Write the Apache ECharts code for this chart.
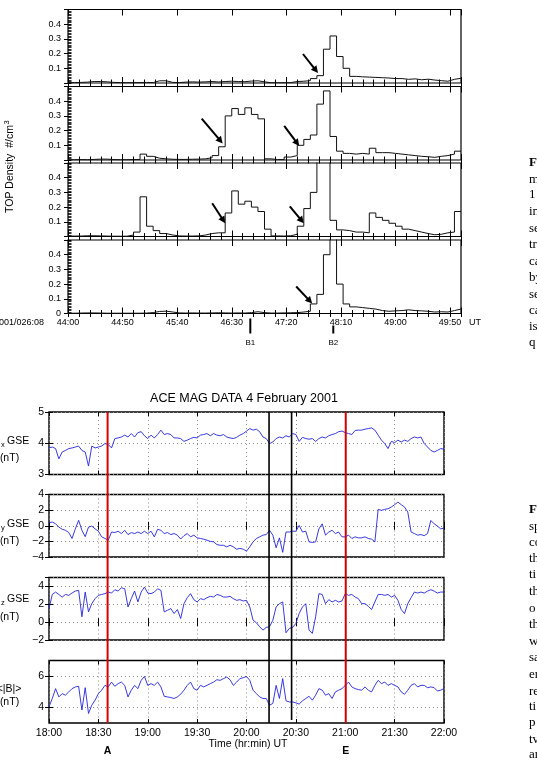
<!DOCTYPE html>
<html><head><meta charset="utf-8">
<script src="https://cdn.jsdelivr.net/npm/echarts@6/dist/echarts.min.js"></script>
<style>html,body{margin:0;padding:0;background:#fff;overflow:hidden}#c{width:537px;height:775px}</style>
</head><body><div id="c"></div>
<script>
// ---------------- DATA ----------------
// Top figure: TOP density (#/cm3), 6-second bins starting at 2001/026 08:44:00
const binSeconds = 6;
const den1 = [0.003,0.004,0.006,0.01,0.01,0.008,0.004,0.003,0.002,0.003,
  0.003,0.004,0.003,0.015,0.015,0.004,0.003,0.006,0.008,0.006,
  0.008,0.01,0.007,0.01,0.012,0.01,0.009,0.013,0.015,0.008,
  0.002,0.002,0.002,0.003,0.01,0.012,0.016,0.03,0.05,0.23,
  0.32,0.18,0.1,0.045,0.042,0.04,0.038,0.036,0.034,0.03,
  0.03,0.025,0.028,0.022,0.026,0.02,0.016,0.012,0.025,0.032];
const den2 = [0.002,0.003,0.002,0.004,0.006,0.006,0.003,0.002,0.002,0.003,
  0.004,0.04,0.025,0.012,0.008,0.005,0.004,0.004,0.005,0.006,
  0.008,0.015,0.03,0.09,0.3,0.35,0.31,0.355,0.31,0.28,
  0.008,0.003,0.003,0.02,0.03,0.1,0.14,0.17,0.38,0.47,
  0.16,0.06,0.045,0.04,0.045,0.04,0.08,0.05,0.05,0.045,
  0.04,0.035,0.03,0.025,0.022,0.018,0.025,0.03,0.04,0.06];
const den3 = [0.003,0.003,0.005,0.005,0.004,0.003,0.002,0.002,0.002,0.01,
  0.03,0.27,0.07,0.04,0.02,0.01,0.004,0.003,0.003,0.004,
  0.01,0.02,0.025,0.025,0.16,0.31,0.22,0.24,0.2,0.17,
  0.05,0.004,0.003,0.005,0.015,0.07,0.19,0.3,0.55,0.55,
  0.11,0.045,0.04,0.03,0.03,0.025,0.16,0.13,0.11,0.09,
  0.07,0.05,0.04,0.03,0.02,0.012,0.015,0.025,0.03,0.17];
const den4 = [0.002,0.003,0.004,0.004,0.003,0.002,0.002,0.002,0.002,0.002,
  0.002,0.003,0.006,0.014,0.016,0.01,0.004,0.003,0.004,0.003,
  0.003,0.004,0.005,0.004,0.003,0.004,0.003,0.006,0.012,0.006,
  0.003,0.003,0.004,0.005,0.006,0.01,0.015,0.065,0.13,0.4,
  0.55,0.2,0.065,0.045,0.04,0.035,0.03,0.02,0.015,0.018,
  0.02,0.025,0.02,0.018,0.015,0.01,0.012,0.01,0.02,0.03];
const topStartLabel = '2001/026:08';
const markerTimes = [167, 243];          // seconds after 44:00
const markerLabels = ['B1', 'B2'];
// arrows: [panel, time(s), density, tail dx, tail dy]
const arrows = [[0,229,0.068,-15,-19],[1,141.7,0.112,-21,-25],[1,211.8,0.096,-15,-20],
  [2,144,0.09,-13,-20],[2,216,0.09,-14,-17],[3,223.7,0.068,-16,-17]];

// Bottom figure: ACE MAG, samples every 2 minutes from 18:00 UT
const magMinutes = Array.from({length:121}, (_, k) => k * 2);
const bx = [3.85,3.88,3.83,3.5,3.72,3.77,3.83,3.85,3.88,3.91,
  3.77,3.72,3.27,3.91,3.85,3.88,3.91,3.99,3.96,3.85,
  4.15,4.17,4.2,4.26,4.2,4.31,4.2,4.34,4.37,4.24,
  4.15,4.26,4.17,4.28,4.42,4.28,4.31,4.28,4.17,4.17,
  4.15,4.06,4.1,4.15,4.19,4.17,4.26,4.28,4.31,4.24,
  4.31,4.26,4.24,4.28,4.2,4.17,4.15,4.19,4.26,4.31,
  4.39,4.47,4.42,4.45,4.37,4.2,4.15,3.99,4.04,4.15,
  4.2,4.17,4.24,4.2,4.31,4.28,4.06,4.19,4.15,4.13,
  4.15,4.06,4.15,4.2,4.17,4.24,4.28,4.31,4.37,4.39,
  4.34,4.31,4.28,4.41,4.42,4.42,4.45,4.47,4.49,4.42,
  4.26,4.1,3.99,3.83,4.06,4.02,4.1,4.04,4.1,4.06,
  4.15,4.2,4.17,4.2,3.99,3.88,3.77,3.72,3.77,3.83,
  3.81];
const by = [0.38,0.48,0.25,-0.17,-0.45,-0.58,-0.87,-1.63,-0.4,0.7,
  -0.58,-1.4,-0.17,-0.04,-0.4,-0.7,-1.42,-1.63,-1.85,-0.8,
  -0.87,-0.7,-1.0,-0.58,-1.13,-0.87,-1.0,-0.8,-1.0,-0.7,
  -1.0,-0.7,-1.42,-0.45,-0.58,-1.0,-0.87,-1.13,-1.0,-1.2,
  -1.7,-1.27,-1.0,-1.42,-1.2,-1.55,-1.63,-1.72,-1.85,-2.0,
  -2.06,-2.4,-2.5,-2.5,-2.7,-2.5,-2.7,-3.0,-2.9,-3.0,
  -3.25,-2.7,-2.06,-1.63,-1.42,-1.2,-1.13,-0.58,-1.2,-2.82,
  -1.55,-3.4,-0.8,-0.8,-0.7,-0.7,0.04,-0.8,-0.7,-2.06,
  -2.14,-2.06,-0.4,0.25,-1.2,-0.8,-0.58,-1.0,-0.8,-1.42,
  -1.42,-1.2,-1.63,-1.42,-1.55,-1.55,-1.42,-1.63,-1.72,-2.06,
  2.1,1.97,2.1,2.18,2.4,2.7,3.03,2.7,2.4,1.75,
  -0.8,-1.0,-1.2,-1.13,-1.27,-1.0,0.68,0.25,-0.04,-0.4,
  -0.3];
const bz = [1.52,3.1,3.37,3.1,2.8,3.1,3.0,3.26,3.48,3.56,
  0.6,3.37,1.15,2.07,2.63,3.0,3.1,3.19,3.37,3.26,
  3.63,3.48,3.85,3.74,1.7,2.63,3.48,2.26,3.37,3.93,
  3.26,3.19,3.37,3.74,3.56,1.15,1.33,1.52,0.96,1.41,
  0.41,2.07,2.74,3.19,2.52,2.26,2.63,2.52,2.74,2.89,
  2.81,3.1,3.0,2.81,2.81,2.89,2.63,2.44,2.52,2.37,
  2.44,1.7,0.22,-0.07,-0.52,-0.89,-0.59,-0.52,0.22,1.7,
  2.07,2.26,-1.19,-0.7,-0.59,-0.15,0.96,1.7,2.07,-0.89,
  -1.26,0.59,3.19,3.1,2.07,2.52,2.26,2.44,2.26,2.37,
  3.19,3.0,3.1,2.81,2.63,2.07,2.07,1.78,1.41,2.26,
  3.1,3.1,3.0,3.1,2.81,3.0,2.44,1.41,0.96,2.07,
  2.74,3.37,3.26,3.37,3.26,3.48,3.63,3.48,3.26,3.37,
  3.37];
const bmag = [4.04,4.57,5.2,4.67,4.88,4.78,4.99,5.2,5.31,5.35,
  3.83,5.26,3.61,4.14,4.46,4.88,5.1,5.41,5.31,5.62,
  5.35,5.52,5.62,5.41,4.67,5.1,5.41,5.2,5.73,5.98,
  5.41,5.52,5.41,5.62,5.31,4.71,4.67,4.63,4.57,4.67,
  4.84,5.1,5.41,5.62,5.2,5.1,5.41,5.31,5.41,5.52,
  5.62,5.77,5.73,5.84,5.94,5.77,5.41,5.62,5.84,5.9,
  5.98,5.73,5.1,4.88,4.67,4.57,4.57,4.14,4.25,5.41,
  4.57,5.84,4.42,4.35,4.35,4.29,4.21,4.42,4.57,4.71,
  4.46,4.78,5.2,5.1,4.78,4.88,4.57,4.99,5.1,5.2,
  5.41,5.62,5.31,5.2,5.14,5.1,5.31,5.1,4.99,5.41,
  5.73,5.52,5.62,5.41,5.52,5.41,5.31,4.99,4.84,5.1,
  5.41,5.52,5.31,5.41,5.41,5.26,5.31,5.26,5.05,5.1,
  5.2];
const magLabels = ['GSE', 'GSE', 'GSE', '<|B|>'];
const magSubs = ['x', 'y', 'z', ''];
const redLineMinutes = [35.6, 180.3];
const redLineLabels = ['A', 'E'];
const blackLineMinutes = [133.7, 147.4];
const titleText = 'ACE MAG DATA 4 February 2001';
const captionTop = [['F',163,true],['m',180],['1',195],['in',212],['se',229],['tr',245],['ca',262],['by',278],['se',295],['ca',311],['is',327],['q',343]];
const captionBottom = [['F',510,true],['sp',527],['co',543],['th',559],['ti',575],['th',592],['o',609],['th',625],['w',642],['sa',658],['er',675],['re',692],['ti',707],['p',723],['tv',740],['ar',755]];

// ---------------- CHART ----------------
const SANS = '"Liberation Sans", Arial, Helvetica, sans-serif';
const SERIF = '"Liberation Serif", "DejaVu Serif", serif';
const chart = echarts.init(document.getElementById('c'), null, {renderer:'canvas', width:537, height:775});

const topTops = [9.5, 86.5, 163, 240];
const topH = 73.5;
const magTops = [412, 494.5, 577.5, 660.5];
const magH = 62.5;
const magLabelY = [[441, 458], [524, 541], [599, 617], [689, 702]];
const magRanges = [
  {min:3, max:5, interval:1},
  {min:-4, max:4, interval:2},
  {min:-2, max:5, interval:2},
  {min:3, max:7, interval:1, custom:[4,6]}
];

function topTimeLabel(v) {
  if (v % 50 !== 0 || v >= 360) return '';
  const tot = 44 * 60 + v;
  return Math.floor(tot / 60) + ':' + String(tot % 60).padStart(2, '0');
}
function magTimeLabel(v) {
  const tot = 18 * 60 + v;
  return Math.floor(tot / 60) + ':' + String(tot % 60).padStart(2, '0');
}
function signed(v) { return v < 0 ? '\u2212' + Math.abs(v) : String(v); }

const grids = [], xAxes = [], yAxes = [], series = [];
const blk = {color:'#000', width:1};
topTops.forEach((t, i) => {
  grids.push({left:68, top:t, width:393, height:topH, show:true, borderColor:'#000', borderWidth:1.2});
  ['bottom','top'].forEach(pos => {
    xAxes.push({gridIndex:i, type:'value', min:0, max:360, interval:10, position:pos,
      axisLine:{show:false}, axisTick:{inside:true, length:3.5, lineStyle:blk},
      axisLabel:{show:false}, splitLine:{show:false}});
  });
  ['bottom','top'].forEach(pos => {
    xAxes.push({gridIndex:i, type:'value', min:0, max:360, interval:50, position:pos,
      axisLine:{show:false}, axisTick:{inside:true, length:6, lineStyle:blk},
      axisLabel:{show: i === 3 && pos === 'bottom', formatter: topTimeLabel, fontSize:9, color:'#000', margin:5, fontFamily:SANS},
      splitLine:{show:false}});
  });
  yAxes.push({gridIndex:i, type:'value', min:0, max:0.5, interval:0.1, position:'left',
    axisLine:{show:false}, axisTick:{inside:false, length:4, lineStyle:blk},
    axisLabel:{fontSize:9, color:'#000', margin:7, fontFamily:SANS,
      formatter: v => (v > 0.05 && v < 0.45) ? v.toFixed(1) : (i === 3 && v === 0 ? '0' : '')},
    splitLine:{show:false}});
  yAxes.push({gridIndex:i, type:'value', min:0, max:0.5, interval:0.1, position:'left',
    axisLine:{show:false}, axisTick:{show:true, inside:true, length:3.5, lineStyle:blk},
    minorTick:{show:true, splitNumber:10, length:3.5, lineStyle:{color:'#000', width:0.8}},
    axisLabel:{show:false}, splitLine:{show:false}});
  const d = [den1, den2, den3, den4][i];
  series.push({type:'line', xAxisIndex:i*4, yAxisIndex:i*2, step:'end', symbol:'none', clip:true,
    data: d.map((v, k) => [k * binSeconds, v]).concat([[d.length * binSeconds, d[d.length - 1]]]),
    lineStyle:{color:'#111', width:1}, silent:true});
});

const dotted = {show:true, lineStyle:{color:'#8a8a8a', type:[1,3], width:1}};
magTops.forEach((t, j) => {
  const gi = 4 + j;
  grids.push({left:49, top:t, width:395, height:magH, show:true, borderColor:'#000', borderWidth:1.4});
  xAxes.push({gridIndex:gi, type:'value', min:0, max:240, interval:30, position:'bottom',
    axisLine:{show:false}, axisTick:{inside:true, length:4, lineStyle:blk},
    axisLabel:{show: j === 3, formatter: magTimeLabel, fontSize:10.5, color:'#000', margin:5, fontFamily:SANS},
    splitLine: dotted});
  xAxes.push({gridIndex:gi, type:'value', min:0, max:240, interval:30, position:'top',
    axisLine:{show:false}, axisTick:{inside:true, length:4, lineStyle:blk},
    axisLabel:{show:false}, splitLine:{show:false}});
  const r = magRanges[j];
  const tick = {inside:true, length:4, lineStyle:blk};
  if (r.custom) tick.customValues = r.custom;
  const lab = {fontSize:10.5, color:'#000', margin:5, fontFamily:SANS,
    formatter: v => (v === r.max && (r.max - r.min) % r.interval !== 0) ? '' : (r.custom && r.custom.indexOf(v) < 0 ? '' : signed(v))};
  if (r.custom) lab.customValues = r.custom;
  yAxes.push({gridIndex:gi, type:'value', min:r.min, max:r.max, interval:r.interval, position:'left',
    axisLine:{show:false}, axisTick:tick, axisLabel:lab, splitLine:dotted});
  yAxes.push({gridIndex:gi, type:'value', min:r.min, max:r.max, interval:r.interval, position:'right',
    axisLine:{show:false}, axisTick:tick, axisLabel:{show:false}, splitLine:{show:false}});
  const d = [bx, by, bz, bmag][j];
  series.push({type:'line', xAxisIndex:16 + 2*j, yAxisIndex:8 + 2*j, symbol:'none', clip:true,
    data: d.map((v, k) => [magMinutes[k], v]),
    lineStyle:{color:'#2424dc', width:0.9}, silent:true});
});

chart.setOption({animation:false, backgroundColor:'#fff', grid:grids, xAxis:xAxes, yAxis:yAxes, series:series});

// ---------------- ANNOTATIONS ----------------
function px(xi, yi, x, y) { return chart.convertToPixel({xAxisIndex:xi, yAxisIndex:yi}, [x, y]); }
const g = [];
function txt(text, x, y, font, align, extra) {
  g.push(Object.assign({type:'text', silent:true, style:{text:text, x:x, y:y, font:font, fill:'#000',
    textAlign:align || 'center', textVerticalAlign:'middle'}}, extra || {}));
}
// arrows
arrows.forEach(a => {
  const tip = px(a[0]*4, a[0]*2, a[1], a[2]);
  const tail = [tip[0] + a[3], tip[1] + a[4]];
  const L = Math.hypot(a[3], a[4]), ux = -a[3] / L, uy = -a[4] / L;
  const hl = 7, hw = 3.6;
  const base = [tip[0] - ux*hl, tip[1] - uy*hl];
  g.push({type:'line', silent:true, shape:{x1:tail[0], y1:tail[1], x2:base[0]+ux, y2:base[1]+uy}, style:{stroke:'#000', lineWidth:2}});
  g.push({type:'polygon', silent:true, shape:{points:[tip, [base[0] - uy*hw, base[1] + ux*hw], [base[0] + uy*hw, base[1] - ux*hw]]}, style:{fill:'#000'}});
});
// top figure texts
const axisY = px(12, 6, 0, 0)[1];
txt(topStartLabel, 44, axisY + 9, '9px ' + SANS, 'right');
txt('UT', 469, axisY + 9, '9px ' + SANS, 'left');
markerTimes.forEach((t, k) => {
  const x = px(12, 6, t, 0)[0];
  const y1 = k === 0 ? axisY + 5 : axisY + 12;
  g.push({type:'line', silent:true, shape:{x1:x, y1:y1, x2:x, y2:axisY + 20}, style:{stroke:'#000', lineWidth:2}});
  txt(markerLabels[k], x, axisY + 29, '8px ' + SANS, 'center');
});
const yLabelText = 'TOP Density  #/cm';
const yLabelFont = '10.5px ' + SANS;
const mctx = document.createElement('canvas').getContext('2d');
mctx.font = yLabelFont;
const yLabelLen = mctx.measureText(yLabelText).width;
const yLabelBottom = 213;
g.push({type:'text', silent:true, x:10, y:yLabelBottom, rotation:Math.PI/2,
  style:{text:yLabelText, x:0, y:0, font:yLabelFont, fill:'#000', textAlign:'left', textVerticalAlign:'middle'}});
g.push({type:'text', silent:true, x:6.5, y:yLabelBottom - yLabelLen - 0.5, rotation:Math.PI/2,
  style:{text:'3', x:0, y:0, font:'7.5px ' + SANS, fill:'#000', textAlign:'left', textVerticalAlign:'middle'}});
// bottom figure texts
const magTop = px(16, 8, 0, 5)[1];
const magBottom = px(22, 14, 0, 3)[1];
txt(titleText, 244, 399, '12.5px ' + SANS, 'center');
txt('Time (hr:min) UT', 248, magBottom + 21, '10.5px ' + SANS, 'center');
magTops.forEach((t, j) => {
  const ly = magLabelY[j];
  if (j < 3) {
    txt('B', 0, ly[0], '10.5px ' + SANS, 'right');
    txt(magSubs[j], 1, ly[0] + 4, '7.5px ' + SANS, 'left');
    txt(magLabels[j], 7, ly[0], '10.5px ' + SANS, 'left');
    txt('(nT)', 9.5, ly[1], '10.5px ' + SANS, 'center');
  } else {
    txt(magLabels[j], 9, ly[0], '10.5px ' + SANS, 'center');
    txt('(nT)', 9.5, ly[1], '10.5px ' + SANS, 'center');
  }
});
redLineMinutes.forEach((m, k) => {
  const x = px(16, 8, m, 4)[0];
  g.push({type:'line', silent:true, z:10, shape:{x1:x, y1:magTop, x2:x, y2:magBottom}, style:{stroke:'#d40000', lineWidth:2}});
  txt(redLineLabels[k], x, magBottom + 28, 'bold 10.5px ' + SANS, 'center');
});
blackLineMinutes.forEach((m, k) => {
  const x = px(16, 8, m, 4)[0];
  g.push({type:'line', silent:true, z:10, shape:{x1:x, y1:magTop, x2:x, y2:magBottom - (k ? 3 : 0)}, style:{stroke:'#000', lineWidth:1.6}});
});
// clipped caption text on the right edge
captionTop.concat(captionBottom).forEach(c => {
  txt(c[0], 529, c[1], (c[2] ? 'bold ' : '') + '13px ' + SERIF, 'left');
});
chart.setOption({graphic:{elements:g}});
</script>
</body></html>
